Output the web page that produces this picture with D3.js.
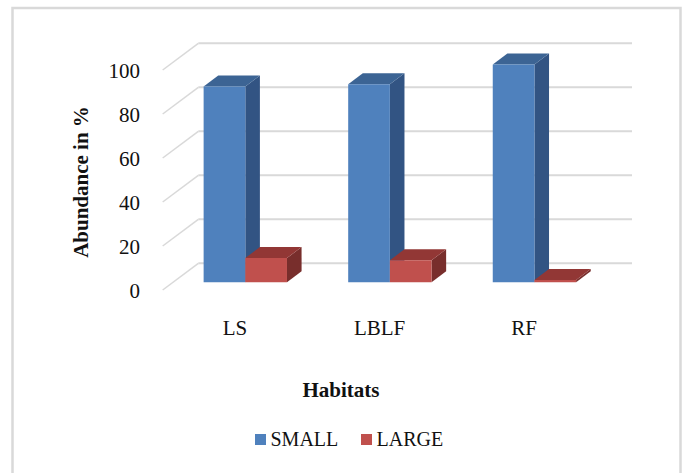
<!DOCTYPE html>
<html>
<head>
<meta charset="utf-8">
<script src="https://cdn.jsdelivr.net/npm/d3@7"></script>
<style>
  html, body { margin: 0; padding: 0; background: #fff; }
  svg { display: block; }
  text { font-family: "Liberation Serif", "DejaVu Serif", serif; fill: #111; }
</style>
</head>
<body>
<svg id="chart" width="685" height="473"></svg>
<script>
// Habitat categories and the share of small vs large individuals (%)
const habitats = ["LS", "LBLF", "RF"];
const seriesNames = ["SMALL", "LARGE"];
const smallValues = [89, 90, 99];
const largeValues = [11, 10, 1];
const yTickValues = [0, 20, 40, 60, 80, 100];

const seriesValues = [smallValues, largeValues];
const faceColors = {
  SMALL: { front: "#4f81bd", top: "#3c6494", side: "#325483" },
  LARGE: { front: "#c0504d", top: "#923735", side: "#782e2c" }
};
const serif = "'Liberation Serif','DejaVu Serif',serif";

const svg = d3.select("#chart");

// Outer frame
svg.append("rect")
  .attr("x", 12.5).attr("y", 8)
  .attr("width", 668).attr("height", 490)
  .attr("fill", "none").attr("stroke", "#d9d9d9").attr("stroke-width", 2.5);

// Oblique 3D projection: front plane scales plus a depth vector
const x = d3.scaleBand().domain(habitats).range([162.7, 596.4]).padding(0);
const y = d3.scaleLinear().domain([0, 100]).range([290, 70]);
const depth = { dx: 35.6, dy: -26.7 };
const P = (px, v, t) => [px + t * depth.dx, y(v) + t * depth.dy];

const groupInset = 30.6;
const xs = d3.scaleBand().domain(seriesNames)
  .range([groupInset, x.bandwidth() - groupInset]).padding(0);
const t0 = 0.29, t1 = 0.70;

// Back wall gridlines and left wall diagonals
const grid = svg.append("g");
const [xl, xr] = x.range();
yTickValues.forEach(v => {
  const a = P(xl, v, 1), b = P(xr, v, 1), c = P(xl, v, 0);
  grid.append("line")
    .attr("x1", a[0]).attr("y1", a[1]).attr("x2", b[0]).attr("y2", b[1])
    .attr("stroke", "#d9d9d9").attr("stroke-width", 2);
  grid.append("line")
    .attr("x1", c[0]).attr("y1", c[1]).attr("x2", a[0]).attr("y2", a[1])
    .attr("stroke", "#d9d9d9").attr("stroke-width", 1.5);
});

// Y axis tick labels (front plane)
const yAxis = d3.axisLeft(y).tickValues(yTickValues).tickSize(0).tickPadding(0);
const yg = svg.append("g").attr("transform", "translate(140,0)").call(yAxis)
  .attr("font-family", serif).attr("font-size", 21);
yg.select(".domain").remove();
yg.selectAll("text").attr("fill", "#111").attr("dy", "0.35em");

// Bars as three visible faces each
const poly = pts => pts.map(p => p.join(",")).join(" ");
const bars = svg.append("g");
habitats.forEach((h, i) => {
  seriesNames.forEach((s, j) => {
    const v = seriesValues[j][i];
    const xa = x(h) + xs(s), xb = xa + xs.bandwidth();
    const c = faceColors[s];
    bars.append("polygon")
      .attr("points", poly([P(xb, 0, t0), P(xb, 0, t1), P(xb, v, t1), P(xb, v, t0)]))
      .attr("fill", c.side);
    bars.append("polygon")
      .attr("points", poly([P(xa, v, t0), P(xb, v, t0), P(xb, v, t1), P(xa, v, t1)]))
      .attr("fill", c.top);
    bars.append("polygon")
      .attr("points", poly([P(xa, 0, t0), P(xb, 0, t0), P(xb, v, t0), P(xa, v, t0)]))
      .attr("fill", c.front);
  });
});

// Category labels
const xAxis = d3.axisBottom(x).tickSize(0).tickPadding(0);
const xg = svg.append("g").attr("transform", "translate(0,320)").call(xAxis)
  .attr("font-family", serif).attr("font-size", 21);
xg.select(".domain").remove();
xg.selectAll("text").attr("fill", "#111").attr("dy", "0.71em");

// Axis titles
svg.append("text")
  .attr("x", 341).attr("y", 397)
  .attr("text-anchor", "middle")
  .attr("font-family", serif)
  .attr("font-size", 21).attr("font-weight", "bold")
  .text("Habitats");

svg.append("text")
  .attr("transform", "translate(88,182) rotate(-90)")
  .attr("text-anchor", "middle")
  .attr("font-family", serif)
  .attr("font-size", 21).attr("font-weight", "bold")
  .text("Abundance in %");

// Legend
const legendX = [255, 361];
const legend = svg.append("g");
seriesNames.forEach((s, j) => {
  legend.append("rect")
    .attr("x", legendX[j]).attr("y", 434)
    .attr("width", 11).attr("height", 11)
    .attr("fill", faceColors[s].front);
  legend.append("text")
    .attr("x", legendX[j] + 15.5).attr("y", 446)
    .attr("font-family", serif)
    .attr("font-size", 20)
    .text(s);
});
</script>
</body>
</html>
